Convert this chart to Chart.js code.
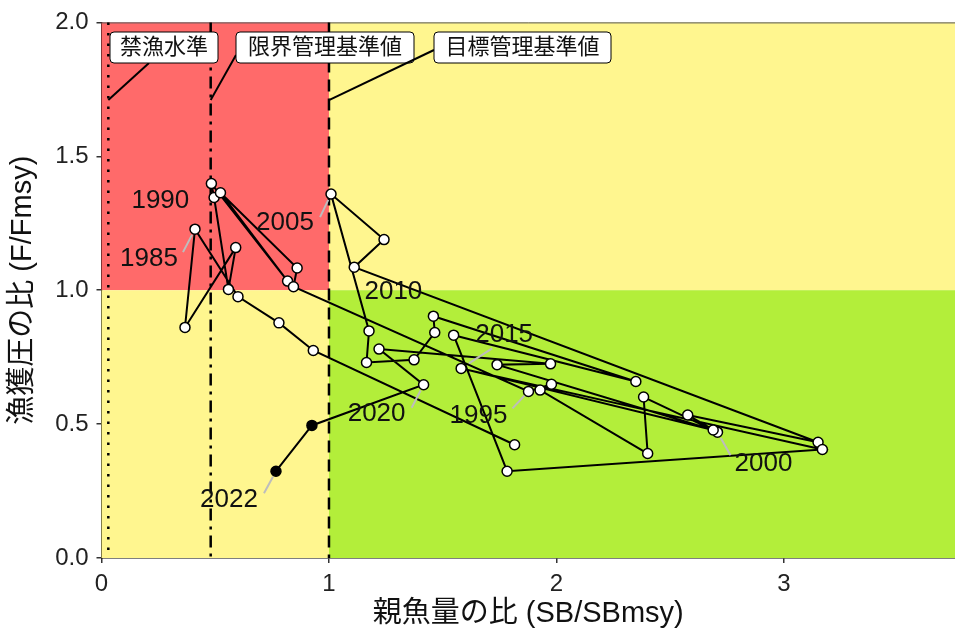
<!DOCTYPE html>
<html>
<head>
<meta charset="utf-8">
<script src="https://cdn.jsdelivr.net/npm/chart.js@4.4.1/dist/chart.umd.min.js"></script>
<style>
  body { margin: 0; background: #fff; overflow: hidden; }
  #wrap { width: 955px; height: 633px; }
  canvas { display: block; }
</style>
</head>
<body>
<div id="wrap"><canvas id="kobe" width="955" height="633"></canvas></div>
<script>
// データ (年, SB/SBmsy, F/Fmsy)
const years = [1981, 1982, 1983, 1984, 1985, 1986, 1987, 1988, 1989, 1990,
  1991, 1992, 1993, 1994, 1995, 1996, 1997, 1998, 1999, 2000,
  2001, 2002, 2003, 2004, 2005, 2006, 2007, 2008, 2009, 2010,
  2011, 2012, 2013, 2014, 2015, 2016, 2017, 2018, 2019, 2020,
  2021, 2022]
const sbRatio = [1.816, 0.931, 0.780, 0.600, 0.411, 0.367, 0.590, 0.558, 0.495, 0.483,
  0.818, 0.523, 0.860, 0.844, 1.877, 1.978, 1.928, 2.401, 2.383, 2.708,
  2.577, 3.150, 1.111, 1.242, 1.009, 1.176, 1.165, 1.374, 1.465, 1.459,
  2.349, 1.548, 1.783, 3.169, 1.581, 2.689, 1.739, 1.974, 1.220, 1.416,
  0.925, 0.767]
const fRatio = [0.423, 0.775, 0.878, 0.976, 1.228, 0.861, 1.159, 1.003, 1.346, 1.398,
  1.034, 1.364, 1.083, 1.013, 0.622, 0.649, 0.627, 0.390, 0.601, 0.470,
  0.534, 0.432, 1.086, 1.189, 1.359, 0.848, 0.730, 0.740, 0.842, 0.903,
  0.659, 0.832, 0.324, 0.405, 0.708, 0.478, 0.722, 0.725, 0.780, 0.647,
  0.495, 0.324]

const labelYears = [1985, 1990, 1995, 2000, 2005, 2010, 2015, 2020, 2022]
const recentYears = [2021, 2022]

// 管理基準値
const refNames = ['禁漁水準', '限界管理基準値', '目標管理基準値']
const refValues = [0.03, 0.48, 1.0]

const xTicks = [0, 1, 2, 3]
const yTicks = [0.0, 0.5, 1.0, 1.5, 2.0]

// ラベル位置 (ピクセルのずらし: 文字中心 dx, dy / 引き出し線の端 dx, dy)
const yearLabelPos = {
  1985: [-46, 30, -12, 23],
  1990: [-51, 17, null, null],
  1995: [-50, 24, -16, 17],
  2000: [46, 32, 13, 23],
  2005: [-46, 29, -11, 23],
  2010: [-40, -24, null, null],
  2015: [43, -34, 31, -20],
  2020: [-47, 29, -12, 23],
  2022: [-47, 29, -12, 22]
}
const refBoxPos = [
  { left: 110, right: 218, lx: 149, ly: 63 },
  { left: 236, right: 414, lx: 236, ly: 55 },
  { left: 434, right: 611, lx: 434, ly: 50 }
]
const refDash = [[2.5, 8], [12, 6, 3, 6], [12, 7]]

const latin = '"Liberation Sans", Arial, sans-serif'
const cjk = '"Liberation Sans", "Noto Sans CJK JP", sans-serif'

const pts = years.map((y, i) => ({ x: sbRatio[i], y: fRatio[i] }))
const fills = years.map(y => recentYears.includes(y) ? '#000' : '#fff')

const zonePlugin = {
  id: 'zones',
  // 描画領域を右端まで広げる
  afterLayout(chart) {
    const s = chart.scales.x
    s.right = chart.width
    s.width = s.right - s.left
    s.configure()
    chart.chartArea.right = chart.width
    chart.chartArea.width = chart.chartArea.right - chart.chartArea.left
  },
  beforeDatasetsDraw(chart) {
    const { ctx, chartArea: a, scales: { x, y } } = chart
    const x1 = x.getPixelForValue(1), y1 = y.getPixelForValue(1)
    ctx.save()
    ctx.fillStyle = '#FF6A6A'
    ctx.fillRect(a.left, a.top, x1 - a.left, y1 - a.top)
    ctx.fillStyle = '#FFF68F'
    ctx.fillRect(x1, a.top, a.right - x1, y1 - a.top)
    ctx.fillRect(a.left, y1, x1 - a.left, a.bottom - y1)
    ctx.fillStyle = '#B3EE3A'
    ctx.fillRect(x1, y1, a.right - x1, a.bottom - y1)
    // 上端の線
    ctx.strokeStyle = '#555'
    ctx.lineWidth = 1
    ctx.beginPath()
    ctx.moveTo(a.left, a.top + 0.5)
    ctx.lineTo(a.right, a.top + 0.5)
    ctx.stroke()
    // 基準値の縦線
    ctx.strokeStyle = '#000'
    ctx.lineWidth = 2.5
    refValues.forEach((v, i) => {
      const px = x.getPixelForValue(v)
      ctx.setLineDash(refDash[i])
      ctx.beginPath()
      ctx.moveTo(px, a.top)
      ctx.lineTo(px, a.bottom)
      ctx.stroke()
    })
    ctx.restore()
  },
  afterDatasetsDraw(chart) {
    const { ctx, scales: { x, y } } = chart
    ctx.save()
    // 年ラベル
    ctx.font = '26px ' + latin
    ctx.textAlign = 'center'
    ctx.textBaseline = 'middle'
    labelYears.forEach(yr => {
      const i = years.indexOf(yr)
      if (i < 0) return
      const px = x.getPixelForValue(sbRatio[i]), py = y.getPixelForValue(fRatio[i])
      const p = yearLabelPos[yr]
      if (p[2] !== null) {
        ctx.strokeStyle = '#BDBDBD'
        ctx.lineWidth = 2
        ctx.beginPath()
        ctx.moveTo(px + p[2] * 0.25, py + p[3] * 0.25)
        ctx.lineTo(px + p[2], py + p[3])
        ctx.stroke()
      }
      ctx.fillStyle = '#111'
      ctx.fillText(String(yr), px + p[0], py + p[1])
    })
    // 管理基準値のラベル
    const lineY = y.getPixelForValue(1.71)
    refNames.forEach((name, i) => {
      const b = refBoxPos[i]
      const lx = x.getPixelForValue(refValues[i])
      ctx.strokeStyle = '#000'
      ctx.lineWidth = 2
      ctx.beginPath()
      ctx.moveTo(lx, lineY)
      ctx.lineTo(b.lx, b.ly)
      ctx.stroke()
      ctx.fillStyle = '#fff'
      ctx.lineWidth = 1
      ctx.beginPath()
      ctx.roundRect(b.left, 32, b.right - b.left, 31, 4)
      ctx.fill()
      ctx.stroke()
      ctx.fillStyle = '#111'
      ctx.font = '22px ' + cjk
      ctx.fillText(name, (b.left + b.right) / 2, 48)
    })
    ctx.restore()
  }
}

new Chart(document.getElementById('kobe'), {
  type: 'scatter',
  data: {
    datasets: [{
      data: pts,
      showLine: true,
      borderColor: '#000',
      borderWidth: 2,
      pointRadius: 5,
      pointHoverRadius: 5,
      pointBorderWidth: 1.5,
      pointBorderColor: '#000',
      pointBackgroundColor: fills
    }]
  },
  options: {
    responsive: false,
    devicePixelRatio: 1,
    animation: false,
    layout: { padding: { top: 21, right: 0, left: 0, bottom: 0 } },
    plugins: { legend: { display: false }, tooltip: { enabled: false } },
    scales: {
      x: {
        type: 'linear', min: 0, max: 3.752,
        afterBuildTicks: s => { s.ticks = xTicks.map(v => ({ value: v })) },
        afterFit: s => { s.height = 75; s.paddingRight = 0; s.paddingLeft = 0 },
        grid: { drawOnChartArea: false, drawTicks: true, tickLength: 5, color: '#333', lineWidth: 1.5 },
        border: { display: true, color: '#000', width: 1.5 },
        ticks: { color: '#222', font: { family: latin, size: 24 }, padding: 7, callback: v => String(v) },
        title: { display: true, text: '親魚量の比 (SB/SBmsy)', color: '#111', font: { family: cjk, size: 29 }, padding: { top: 0, bottom: 2 } }
      },
      y: {
        type: 'linear', min: 0, max: 2,
        afterBuildTicks: s => { s.ticks = yTicks.map(v => ({ value: v })) },
        afterFit: s => { s.width = 101.5 },
        grid: { drawOnChartArea: false, drawTicks: true, tickLength: 5, color: '#333', lineWidth: 1.5 },
        border: { display: true, color: '#000', width: 1.5 },
        ticks: { color: '#222', font: { family: latin, size: 24 }, padding: 8, callback: v => v.toFixed(1) },
        title: { display: true, text: '漁獲圧の比 (F/Fmsy)', color: '#111', font: { family: cjk, size: 29 }, padding: { top: 6, bottom: 0 } }
      }
    }
  },
  plugins: [zonePlugin]
})
</script>
</body>
</html>
